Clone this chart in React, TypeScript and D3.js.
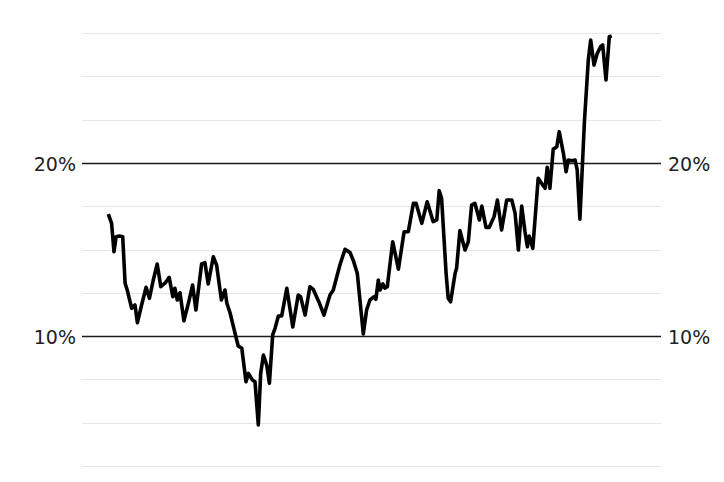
import React from "react";
import * as d3 from "d3";

// time index (months) and values (%)
const months: number[] = [
  0.1, 1.2, 2.0, 2.7, 3.8, 4.9, 5.7, 6.4, 7.9, 9.0, 9.8, 11.2, 12.7, 13.8, 15.1, 16.4, 17.6, 19.0, 20.4, 21.6,
  22.3, 23.1, 24.0, 25.3, 26.8, 28.2, 29.3, 31.2, 32.3, 33.4, 35.1, 36.2, 37.8, 39.0, 39.6, 40.7, 41.8, 43.4, 44.6, 46.0,
  46.8, 48.1, 49.0, 50.1, 50.9, 51.8, 52.9, 53.8, 54.9, 55.7, 56.8, 57.9, 59.6, 61.6, 63.4, 64.2, 65.7, 67.3, 68.4, 70.3,
  72.0, 74.0, 75.1, 77.3, 79.0, 80.7, 81.8, 83.1, 85.1, 86.2, 87.3, 88.7, 89.3, 90.1, 90.7, 91.6, 92.3, 93.1, 94.9, 96.8,
  98.7, 100.1, 101.8, 102.7, 104.6, 106.4, 108.4, 109.6, 110.4, 111.2, 112.7, 113.4, 114.2, 115.7, 116.2, 117.3, 119.0, 120.1, 121.2, 122.3,
  123.8, 124.6, 126.0, 127.1, 128.7, 129.8, 131.2, 132.9, 134.6, 135.7, 136.8, 137.9, 139.0, 139.8, 140.4, 141.6, 143.4, 144.9, 145.7, 146.4,
  147.3, 148.4, 149.6, 150.4, 151.8, 152.7, 153.4, 154.6, 155.7, 156.4, 157.3, 158.8, 160.1, 160.9, 162.0, 163.1, 164.2, 164.9, 166.0, 167.1,
  167.9,
];
const values: number[] = [
  17.05, 16.51, 14.87, 15.74, 15.78, 15.74, 13.05, 12.66, 11.6, 11.79, 10.77, 11.79, 12.82, 12.18, 13.24, 14.16, 12.85, 13.05, 13.39, 12.27,
  12.76, 12.08, 12.5, 10.88, 11.89, 12.95, 11.5, 14.16, 14.24, 13.01, 14.58, 14.1, 12.08, 12.66, 11.91, 11.33, 10.54, 9.42, 9.29, 7.36,
  7.84, 7.46, 7.36, 4.86, 7.84, 8.9, 8.32, 7.27, 10.06, 10.46, 11.16, 11.16, 12.76, 10.52, 12.37, 12.27, 11.21, 12.85, 12.7, 11.97,
  11.21, 12.37, 12.66, 14.1, 15.01, 14.82, 14.35, 13.62, 10.12, 11.5, 12.08, 12.27, 12.12, 13.24, 12.66, 13.01, 12.77, 12.85, 15.45, 13.86,
  16.03, 16.03, 17.67, 17.67, 16.51, 17.76, 16.61, 16.71, 18.4, 17.96, 13.62, 12.18, 11.98, 13.62, 13.91, 16.09, 14.97, 15.45, 17.57, 17.67,
  16.71, 17.51, 16.28, 16.28, 16.9, 17.86, 16.13, 17.86, 17.86, 17.09, 14.97, 17.51, 16.03, 15.16, 15.78, 15.07, 19.12, 18.73, 18.54, 19.75,
  18.54, 20.79, 20.94, 21.81, 20.56, 19.5, 20.17, 20.13, 20.17, 19.6, 16.75, 22.37, 25.95, 27.11, 25.66, 26.34, 26.72, 26.82, 24.8, 27.3,
  27.34,
];

const gridValues: number[] = [2.5, 5, 7.5, 10, 12.5, 15, 17.5, 20, 22.5, 25, 27.5];
const majorTicks: number[] = [10, 20];
const tickLabels: string[] = ["10%", "20%"];

const W = 724;
const H = 482;

export default function App() {
  const x = d3.scaleLinear().domain([0, 168]).range([108, 612]);
  const y = d3.scaleLinear().domain([2.5, 27.5]).range([465.75, 33.25]);
  const data = months.map((m, i) => ({ m, v: values[i] }));
  const line = d3
    .line<{ m: number; v: number }>()
    .x((d) => x(d.m))
    .y((d) => y(d.v));
  const crisp = (v: number) => Math.round(v) + 0.5;

  return (
    <svg
      width={W}
      height={H}
      style={{ position: "absolute", left: 0, top: 0, background: "#fff" }}
    >
      {gridValues
        .filter((g) => !majorTicks.includes(g))
        .map((g) => (
          <line key={g} x1={82} x2={661} y1={crisp(y(g))} y2={crisp(y(g))} stroke="#e6e6e6" strokeWidth={1} />
        ))}
      {majorTicks.map((g) => (
        <line key={"m" + g} x1={82} x2={661} y1={crisp(y(g))} y2={crisp(y(g))} stroke="#1a1a1a" strokeWidth={1.3} />
      ))}
      {majorTicks.map((g, i) => (
        <g key={"t" + g} fontFamily="DejaVu Sans" fontSize={19} fill="#222">
          <text x={76} y={y(g) + 0.7} dy="0.36em" textAnchor="end">
            {tickLabels[i]}
          </text>
          <text x={668} y={y(g) + 0.7} dy="0.36em" textAnchor="start">
            {tickLabels[i]}
          </text>
        </g>
      ))}
      <path
        d={line(data) || ""}
        fill="none"
        stroke="#000"
        strokeWidth={3.6}
        strokeLinejoin="round"
        strokeLinecap="butt"
      />
    </svg>
  );
}
